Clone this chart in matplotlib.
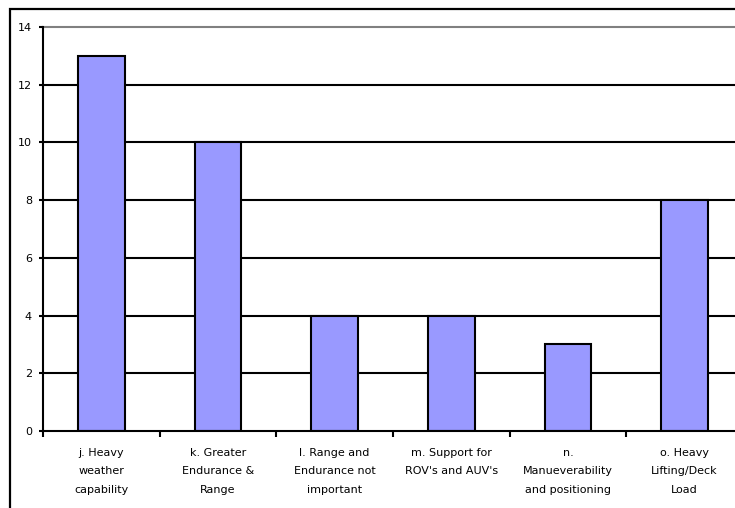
import matplotlib.pyplot as plt
from matplotlib.patches import Rectangle

categories = [
    "j. Heavy\nweather\ncapability",
    "k. Greater\nEndurance &\nRange",
    "l. Range and\nEndurance not\nimportant",
    "m. Support for\nROV's and AUV's",
    "n.\nManueverability\nand positioning",
    "o. Heavy\nLifting/Deck\nLoad",
]
counts = [13, 10, 4, 4, 3, 8]
yticks = [0, 2, 4, 6, 8, 10, 12, 14]

W, H = 735, 508
fig = plt.figure(figsize=(W / 100, H / 100), dpi=100)

# outer chart frame (right/bottom edges fall outside the image)
fig.add_artist(Rectangle((9.5 / W, -0.1), 1.2, 1 - 9.5 / H + 0.1,
                         transform=fig.transFigure, fill=False,
                         edgecolor="black", linewidth=1.6))

# plot area runs past the right edge
left, bottom = 43 / W, (H - 431) / H
ax = fig.add_axes([left, bottom, 700 / W, 404 / H])

x = range(len(counts))
ax.bar(x, counts, width=0.4, color="#9999ff", edgecolor="black",
       linewidth=1.5, zorder=3)

ax.set_xlim(-0.5, len(counts) - 0.5)
ax.set_ylim(0, 14)

for y in yticks[1:-1]:
    ax.axhline(y, color="black", linewidth=1.5, zorder=1)
ax.axhline(14, color="#808080", linewidth=1.5, zorder=1, clip_on=False)

for s in ["top", "right"]:
    ax.spines[s].set_visible(False)
ax.spines["left"].set_linewidth(1.5)
ax.spines["bottom"].set_linewidth(1.5)
ax.spines["bottom"].set_zorder(4)

ax.set_yticks(yticks)
ax.set_yticklabels([str(v) for v in yticks], fontsize=8)
ax.tick_params(axis="y", direction="out", length=3, width=1.5, pad=5)

ax.set_xticks(list(x))
ax.set_xticklabels(categories, fontsize=8, linespacing=2.1, va="top")
ax.set_xticks([i - 0.5 for i in range(len(counts) + 1)], minor=True)
ax.tick_params(axis="x", which="major", length=0, pad=12)
ax.tick_params(axis="x", which="minor", direction="out", length=4, width=1.5)

fig.savefig("out.png", dpi=100)
